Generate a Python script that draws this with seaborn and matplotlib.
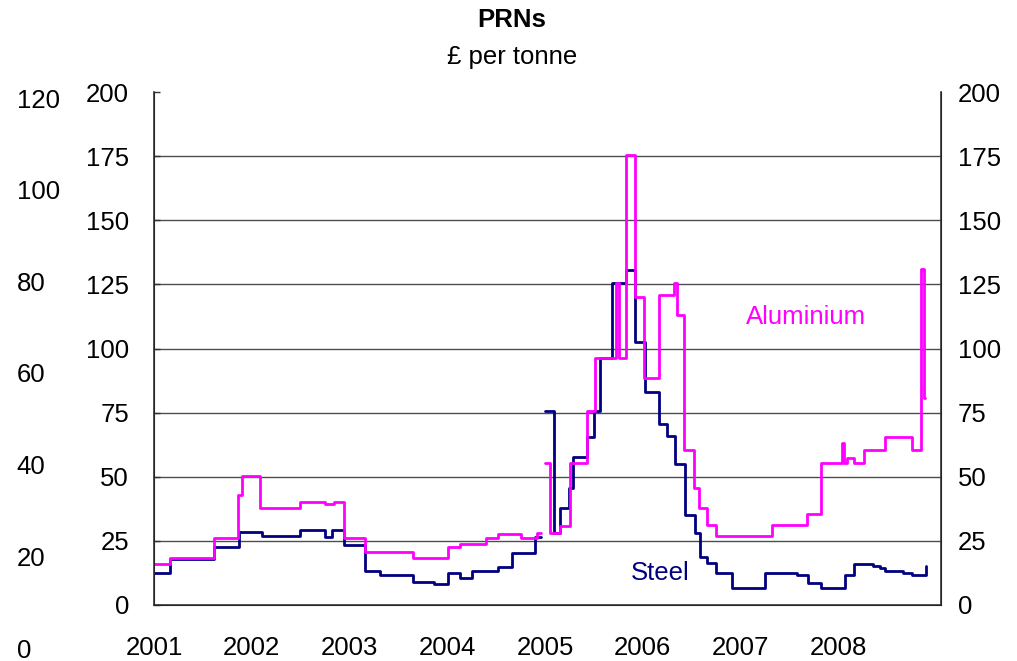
import numpy as np
import pandas as pd
import matplotlib.pyplot as plt
import seaborn as sns

sns.set_style("white")
plt.rcParams['font.family'] = ['Liberation Sans', 'DejaVu Sans']
plt.rcParams.update({'text.color': 'black', 'xtick.color': 'black',
                     'ytick.color': 'black', 'axes.labelcolor': 'black'})

# PRN prices, £ per tonne (NaN = gap in the series)
steel_x = [2001.00, 2001.16, 2001.61, 2001.87, 2002.10, 2002.49, 2002.75, 2002.82,
           2002.94, 2003.16, 2003.31, 2003.65, 2003.86, 2004.01, 2004.13, 2004.25,
           2004.52, 2004.66, 2004.90, 2004.96, 2004.98, 2005.00, 2005.09, 2005.15,
           2005.24, 2005.29, 2005.43, 2005.50, 2005.56, 2005.68, 2005.83, 2005.92,
           2006.02, 2006.17, 2006.25, 2006.33, 2006.43, 2006.53, 2006.58, 2006.66,
           2006.75, 2006.91, 2007.25, 2007.58, 2007.69, 2007.82, 2008.07, 2008.16,
           2008.35, 2008.43, 2008.48, 2008.66, 2008.75, 2008.90]
steel_y = [12.6, 18.0, 22.7, 28.6, 26.9, 29.2, 26.6, 29.2,
           23.4, 13.3, 11.6, 9.1, 8.2, 12.6, 10.7, 13.3,
           14.9, 20.1, 26.6, 26.6, np.nan, 75.8, 28.2, 37.7,
           45.5, 57.8, 65.6, 75.8, 96.2, 125.4, 130.6, 102.7,
           83.2, 70.6, 65.9, 54.8, 35.1, 28.2, 18.6, 16.2,
           12.6, 6.5, 12.6, 11.7, 8.4, 6.5, 11.7, 16.0,
           15.2, 14.3, 13.3, 12.6, 11.7, 15.3]

alu_x = [2001.00, 2001.16, 2001.61, 2001.86, 2001.90, 2002.08, 2002.49, 2002.75,
         2002.84, 2002.94, 2003.16, 2003.65, 2004.01, 2004.13, 2004.40, 2004.52,
         2004.75, 2004.92, 2004.96, 2004.98, 2005.00, 2005.05, 2005.15, 2005.26,
         2005.43, 2005.51, 2005.73, 2005.76, 2005.83, 2005.92, 2006.01, 2006.17,
         2006.32, 2006.35, 2006.42, 2006.52, 2006.57, 2006.66, 2006.75, 2007.32,
         2007.68, 2007.82, 2008.04, 2008.06, 2008.09, 2008.16, 2008.26, 2008.48,
         2008.75, 2008.85, 2008.88, 2008.89]
alu_y = [16.0, 18.2, 26.0, 42.9, 50.3, 37.7, 40.3, 39.3,
         40.3, 26.0, 20.8, 18.2, 22.7, 23.7, 26.0, 27.7,
         26.0, 28.2, 28.2, np.nan, 55.5, 28.2, 30.8, 55.5,
         75.8, 96.2, 125.4, 96.2, 175.4, 120.2, 88.4, 120.9,
         125.7, 113.0, 60.4, 45.5, 37.7, 31.2, 26.9, 31.2,
         35.4, 55.5, 63.3, 55.5, 57.2, 55.5, 60.4, 65.6,
         60.4, 131.0, 80.6, 80.6]

years = list(range(2001, 2009))
left_ticks = list(range(0, 201, 25))
outer_ticks = list(range(0, 121, 20))


def to_frame(x, y):
    df = pd.DataFrame({'x': x, 'y': y})
    df['seg'] = df['y'].isna().cumsum()
    return df.dropna()


df_steel = to_frame(steel_x, steel_y)
df_alu = to_frame(alu_x, alu_y)

FS = 18.5
W, H = 1017, 661
fig = plt.figure(figsize=(W / 100, H / 100), dpi=100)
ax = fig.add_axes([154 / W, 1 - 605 / H, 787 / W, 513 / H])

sns.lineplot(data=df_steel, x='x', y='y', units='seg', estimator=None,
             color='#000080', lw=2.0, drawstyle='steps-post', ax=ax)
sns.lineplot(data=df_alu, x='x', y='y', units='seg', estimator=None,
             color='#FF00FF', lw=2.0, drawstyle='steps-post', ax=ax)

ax.set_xlim(2001, 2009.05)
ax.set_ylim(0, 200)
ax.set_xticks(years)
ax.set_xticklabels([str(y) for y in years])
ax.set_yticks(left_ticks)
ax.set_xlabel('')
ax.set_ylabel('')
for v in left_ticks[1:-1]:
    ax.axhline(v, color='0.3', lw=1.0, zorder=0)

ax.spines['top'].set_visible(False)
for s in ['left', 'right', 'bottom']:
    ax.spines[s].set_color('0.2')
    ax.spines[s].set_linewidth(1.2)
ax.tick_params(axis='x', direction='out', length=7, width=1.2, color='0.2',
               pad=15, labelsize=FS)
ax.tick_params(axis='y', direction='in', length=4, width=1.0, color='0.2',
               pad=18, labelsize=FS)

axr = ax.twinx()
axr.set_ylim(0, 200)
axr.set_yticks(left_ticks)
axr.spines['top'].set_visible(False)
axr.tick_params(axis='y', direction='in', length=0, pad=12, labelsize=FS)

# stray outer scale on the far left
axo = fig.add_axes([6 / W, 1 - 648 / H, 8 / W, 550 / H])
axo.set_ylim(0, 120)
axo.set_yticks(outer_ticks)
axo.yaxis.tick_right()
axo.tick_params(axis='y', length=0, pad=2, labelsize=FS)
axo.set_xticks([])
for s in axo.spines.values():
    s.set_visible(False)
axo.patch.set_alpha(0)

ax.text(2007.67, 112.3, 'Aluminium', color='#FF00FF', fontsize=FS,
        ha='center', va='center')
ax.text(2006.18, 12.5, 'Steel', color='#000080', fontsize=FS,
        ha='center', va='center')

fig.text(512 / W, 1 - 20 / H, 'PRNs', fontsize=FS, fontweight='bold',
         ha='center', va='center')
fig.text(512 / W, 1 - 57 / H, '£ per tonne', fontsize=FS,
         ha='center', va='center')

fig.savefig('out.png', dpi=100)
